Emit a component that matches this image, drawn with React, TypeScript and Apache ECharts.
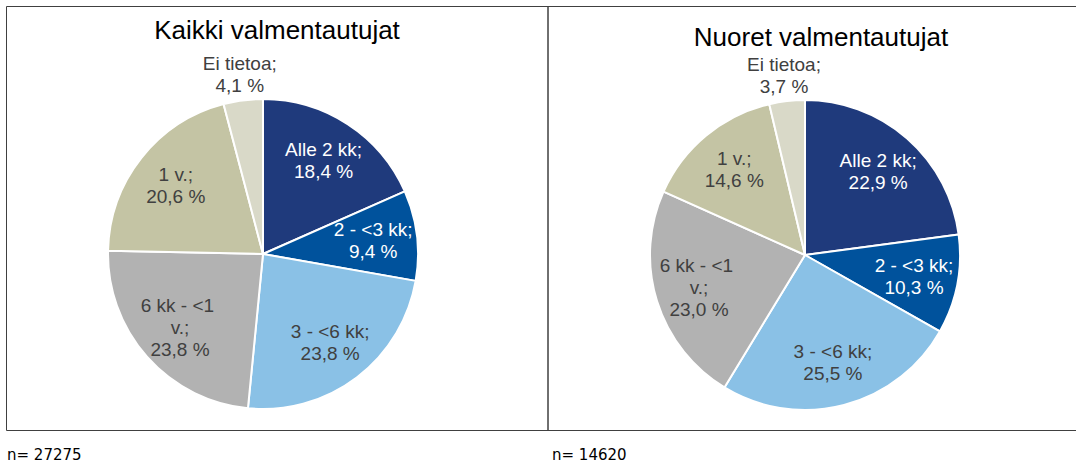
import React, { useEffect, useRef } from "react";
import * as echarts from "echarts";

const categories = ["Alle 2 kk", "2 - <3 kk", "3 - <6 kk", "6 kk - <1 v.", "1 v.", "Ei tietoa"];
const kaikkiValues = [18.4, 9.4, 23.8, 23.8, 20.6, 4.1];
const nuoretValues = [22.9, 10.3, 25.5, 23.0, 14.6, 3.7];
const sliceColors = ["#1F3A7C", "#00529C", "#8AC1E6", "#B2B2B2", "#C4C4A4", "#D9D9C8"];
const labelColors = ["#FFFFFF", "#FFFFFF", "#404040", "#404040", "#404040", "#404040"];
const titles = ["Kaikki valmentautujat", "Nuoret valmentautujat"];
const nLabels = ["n= 27275", "n= 14620"];

const FONT = "Liberation Sans, Arial, sans-serif";

const fmt = (p: any) =>
  `${p.name};\n${Number(p.value).toFixed(1).replace(".", ",")} %`;

function pieSeries(values: number[], center: [number, number]) {
  const base = {
    type: "pie",
    center,
    startAngle: 90,
    clockwise: true,
    silent: true,
    animation: false,
    labelLine: { show: false },
  };
  const main = {
    ...base,
    radius: [0, 155],
    label: { show: false },
    itemStyle: { borderColor: "#FFFFFF", borderWidth: 2 },
    data: values.map((v, i) => ({
      name: categories[i],
      value: v,
      itemStyle: { color: sliceColors[i] },
    })),
  };
  const labels = {
    ...base,
    radius: [0, 216],
    itemStyle: { color: "transparent" },
    label: {
      show: true,
      position: "inside",
      formatter: fmt,
      fontFamily: FONT,
      fontSize: 19,
      lineHeight: 22,
      width: 88,
      overflow: "break",
      align: "center",
    },
    data: values.map((v, i) => ({
      name: categories[i],
      value: v,
      label: { show: i < 5, color: labelColors[i] },
    })),
  };
  const outer = {
    ...base,
    radius: [0, 356],
    itemStyle: { color: "transparent" },
    label: {
      show: true,
      position: "inside",
      formatter: fmt,
      fontFamily: FONT,
      fontSize: 19,
      lineHeight: 22,
      align: "center",
    },
    data: values.map((v, i) => ({
      name: categories[i],
      value: v,
      label: { show: i === 5, color: labelColors[i] },
    })),
  };
  return [main, labels, outer];
}

export default function App() {
  const ref = useRef<HTMLDivElement>(null);
  useEffect(() => {
    document.body.style.margin = "0";
    const chart = echarts.init(ref.current!, undefined, { renderer: "svg" });
    chart.setOption({
      animation: false,
      backgroundColor: "#FFFFFF",
      graphic: [
        {
          type: "rect",
          shape: { x: 6.5, y: 6.5, width: 541.5, height: 424 },
          style: { fill: "none", stroke: "#404040", lineWidth: 1 },
          silent: true,
        },
        {
          type: "rect",
          shape: { x: 548, y: 6.5, width: 600, height: 424 },
          style: { fill: "none", stroke: "#404040", lineWidth: 1 },
          silent: true,
        },
        {
          type: "text",
          x: 277,
          y: 30,
          style: {
            text: titles[0],
            fontFamily: FONT,
            fontSize: 26,
            fill: "#000000",
            align: "center",
            verticalAlign: "middle",
          },
        },
        {
          type: "text",
          x: 821,
          y: 37,
          style: {
            text: titles[1],
            fontFamily: FONT,
            fontSize: 26,
            fill: "#000000",
            align: "center",
            verticalAlign: "middle",
          },
        },
        {
          type: "text",
          x: 7,
          y: 455,
          style: {
            text: nLabels[0],
            fontFamily: "DejaVu Sans, sans-serif",
            fontSize: 15,
            fill: "#000000",
            align: "left",
            verticalAlign: "middle",
          },
        },
        {
          type: "text",
          x: 552,
          y: 455,
          style: {
            text: nLabels[1],
            fontFamily: "DejaVu Sans, sans-serif",
            fontSize: 15,
            fill: "#000000",
            align: "left",
            verticalAlign: "middle",
          },
        },
      ],
      series: [
        ...pieSeries(kaikkiValues, [263, 254]),
        ...pieSeries(nuoretValues, [805, 255]),
      ],
    });
    return () => chart.dispose();
  }, []);
  return <div ref={ref} style={{ width: 1076, height: 466 }} />;
}
